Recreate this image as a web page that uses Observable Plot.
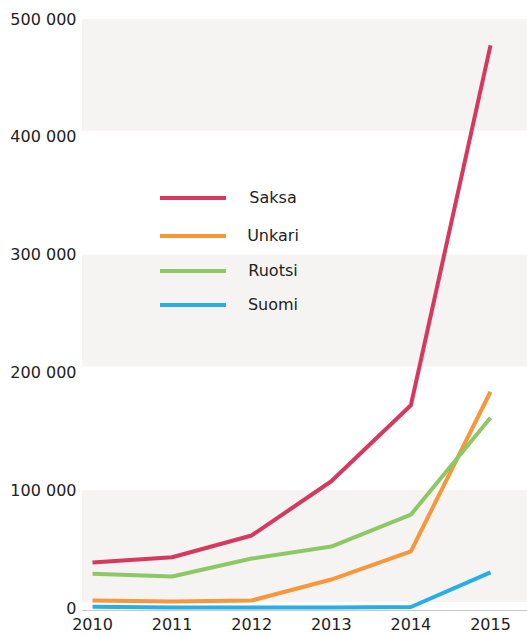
<!DOCTYPE html>
<html>
<head>
<meta charset="utf-8">
<script src="https://cdn.jsdelivr.net/npm/d3@7"></script>
<script src="https://cdn.jsdelivr.net/npm/@observablehq/plot@0.6"></script>
<style>
  html, body { margin: 0; padding: 0; background: #fff; }
  #wrap { position: relative; width: 527px; height: 636px; font-family: "DejaVu Sans", sans-serif; }
  #legend { position: absolute; left: 160px; top: 186px; }
  .item { position: relative; height: 35px; width: 160px; }
  .item:first-child { height: 38px; }
  .item:nth-child(3) { height: 34px; }
  .sw { position: absolute; left: 0; top: 10px; width: 66px; height: 4px; }
  .lab { position: absolute; left: 76px; width: 74px; text-align: center; top: 2px; font-size: 16px; color: #222; }
</style>
</head>
<body>
<div id="wrap"></div>
<script>
const years = [2010, 2011, 2012, 2013, 2014, 2015];
const seriesNames = ["Saksa", "Unkari", "Ruotsi", "Suomi"];
const colors = ["#d6385e", "#f7963a", "#8cc864", "#27aee4"];
const saksa  = [39000, 43500, 62000, 108000, 172500, 478000];
const unkari = [6800, 6000, 6800, 24600, 48500, 184000];
const ruotsi = [29500, 27200, 42400, 52600, 79700, 162000];
const suomi  = [1400, 800, 800, 900, 1300, 30700];
const bandStarts = [0, 200000, 400000];
const yTicks = [0, 100000, 200000, 300000, 400000, 500000];

const valuesBySeries = [saksa, unkari, ruotsi, suomi];
const data = [];
seriesNames.forEach((name, i) => {
  years.forEach((yr, j) => data.push({series: name, year: yr, value: valuesBySeries[i][j]}));
});
const bands = bandStarts.map(b => ({lo: b, hi: b + 100000}));

const fmt = d => d3.format(",")(d).replace(/,/g, " ");

const chart = Plot.plot({
  width: 527,
  height: 636,
  marginLeft: 82,
  marginRight: 0,
  marginTop: 19,
  marginBottom: 28,
  style: {fontFamily: "DejaVu Sans, sans-serif", fontSize: "16px", color: "#222", background: "#fff"},
  x: {domain: [2010, 2015], range: [92, 490]},
  y: {domain: [0, 500000]},
  color: {domain: seriesNames, range: colors},
  marks: [
    Plot.rect(bands, {y1: "lo", y2: "hi", fill: "#f5f4f3", insetBottom: 6}),
    Plot.ruleY([0], {stroke: "#c8c8c8", strokeWidth: 1, dy: 2}),
    Plot.axisY(yTicks, {tickSize: 0, tickPadding: 6, tickFormat: fmt, label: null, fontSize: 16}),
    Plot.axisX(years, {tickSize: 0, tickPadding: 10, tickFormat: d => String(d), label: null, fontSize: 16}),
    Plot.line(data, {x: "year", y: "value", z: "series", stroke: "series", strokeWidth: 4, strokeLinejoin: "miter", strokeLinecap: "butt"})
  ]
});

const wrap = document.getElementById("wrap");
wrap.appendChild(chart);

const legend = document.createElement("div");
legend.id = "legend";
seriesNames.forEach((name, i) => {
  const item = document.createElement("div");
  item.className = "item";
  const sw = document.createElement("div");
  sw.className = "sw";
  sw.style.background = colors[i];
  const lab = document.createElement("div");
  lab.className = "lab";
  lab.textContent = name;
  item.appendChild(sw);
  item.appendChild(lab);
  legend.appendChild(item);
});
wrap.appendChild(legend);
</script>
</body>
</html>
